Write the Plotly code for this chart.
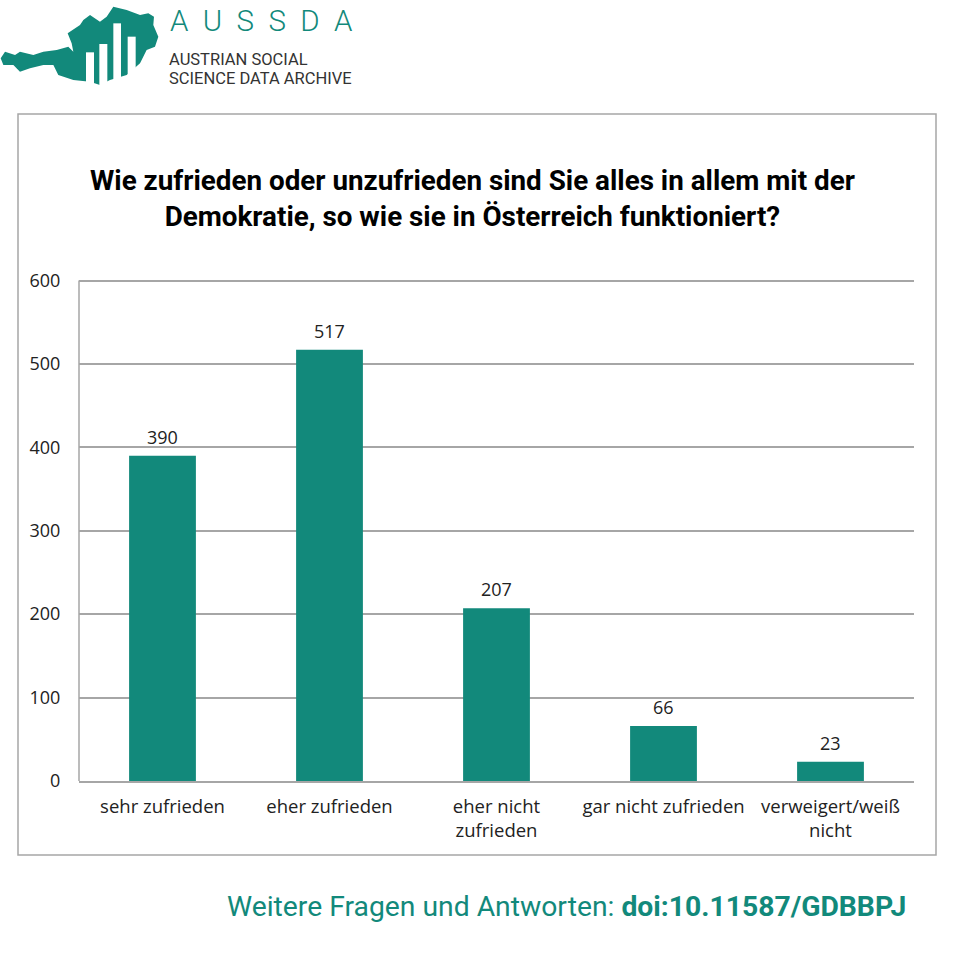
import plotly.graph_objects as go

categories = ['sehr zufrieden', 'eher zufrieden', 'eher nicht<br>zufrieden', 'gar nicht zufrieden', 'verweigert/weiß<br>nicht']
values = [390, 517, 207, 66, 23]
tick_vals = [0, 100, 200, 300, 400, 500, 600]

GREEN = '#12897b'
GREY = '#a6a6a6'
W, H = 956, 957
# 3 extra pixels on top (range goes to 603) or plotly drops the gridline at 600
LEFT, RIGHT, TOP, BOTTOM = 79, 914, 278, 781


# page pixels -> paper coordinates, everything around the plot is placed by hand
def px_x(x):
    return (x - LEFT) / (RIGHT - LEFT)


def px_y(y):
    return (BOTTOM - y) / (BOTTOM - TOP)


# logo outline, read from the 3x zoom
austria = [(2, 175), (15, 155), (45, 165), (60, 155), (100, 165), (130, 155), (170, 150), (205, 140), (220, 155),
           (215, 130), (203, 100), (240, 75), (250, 60), (270, 45), (300, 65), (320, 50), (340, 20), (380, 30),
           (420, 45), (445, 40), (462, 50), (460, 75), (475, 110), (465, 140), (440, 150), (430, 170), (420, 190),
           (380, 225), (330, 240), (300, 255), (270, 245), (220, 240), (175, 225), (160, 195), (130, 195),
           (90, 205), (60, 215), (40, 195), (10, 195)]
logo_bars = [(258, 282, 157, 255), (298, 322, 132, 255), (340, 363, 70, 245), (383, 407, 110, 225)]

logo_path = 'M ' + ' L '.join(f'{px_x(x / 3):.4f},{px_y(y / 3):.4f}' for x, y in austria) + ' Z'

shapes = [
    dict(type='rect', xref='paper', yref='paper', x0=px_x(18), x1=px_x(936), y0=px_y(855), y1=px_y(114),
         line=dict(color=GREY, width=1.5), layer='below'),
    # y axis line, stops at the 600 gridline instead of the range end
    dict(type='line', xref='paper', yref='y', x0=0, x1=0, y0=tick_vals[0], y1=tick_vals[-1],
         line=dict(color=GREY, width=1.5)),
    dict(type='path', xref='paper', yref='paper', path=logo_path, fillcolor=GREEN, line=dict(width=0)),
]
for x0, x1, y0, y1 in logo_bars:
    shapes.append(dict(type='rect', xref='paper', yref='paper', x0=px_x(x0 / 3), x1=px_x(x1 / 3),
                       y0=px_y(y1 / 3), y1=px_y(y0 / 3), fillcolor='white', line=dict(width=0)))

fig = go.Figure(go.Bar(x=categories, y=values, cliponaxis=False, width=0.4,
                       marker=dict(color=GREEN, line=dict(width=0))))

fig.update_layout(
    width=W, height=H,
    autosize=False,
    margin=dict(l=LEFT, r=W - RIGHT, t=TOP, b=H - BOTTOM),
    paper_bgcolor='white',
    plot_bgcolor='white',
    font=dict(family='Open Sans, sans-serif', size=18, color='#222222'),
    showlegend=False,
    xaxis=dict(showgrid=False, showline=True, linecolor=GREY, linewidth=1.5, ticks='outside', ticklen=8,
               tickcolor='rgba(0,0,0,0)', automargin=False, tickfont=dict(size=18.5)),
    yaxis=dict(range=[0, 603], tickvals=tick_vals, showgrid=True, gridcolor=GREY, gridwidth=1.5,
               showline=False, ticks='outside', ticklen=14, tickcolor='rgba(0,0,0,0)',
               zeroline=False, automargin=False),
    shapes=shapes,
)


def add_text(text, x, y, size, color, xanchor='center', align='center', family='Roboto, sans-serif', weight=None):
    fig.add_annotation(text=text, xref='paper', yref='paper', x=px_x(x), y=px_y(y), xanchor=xanchor,
                       yanchor='middle', align=align, showarrow=False,
                       font=dict(family=family, size=size, color=color, weight=weight))


add_text('<b>Wie zufrieden oder unzufrieden sind Sie alles in allem mit der<br>'
         'Demokratie, so wie sie in Österreich funktioniert?</b>', 472, 198, 27.8, 'black')
add_text('A\u00a0\u00a0U\u00a0\u00a0S\u00a0\u00a0S\u00a0\u00a0D\u00a0\u00a0A', 168, 21, 29.5, GREEN,
         xanchor='left', weight=300)
add_text('AUSTRIAN SOCIAL', 167, 59.5, 16.5, '#333333', xanchor='left')
add_text('SCIENCE DATA ARCHIVE', 167, 79, 16.5, '#333333', xanchor='left')
add_text('Weitere Fragen und Antworten: <b>doi:10.11587/GDBBPJ</b>', 908, 906, 28.3, GREEN, xanchor='right')

# value labels sit further above the bars than textposition='outside' allows
for cat, val in zip(categories, values):
    fig.add_annotation(x=cat, y=val, text=str(val), showarrow=False, yanchor='middle', yshift=19,
                       font=dict(size=18, color='#222222'))

# drop the default page margin so the figure starts at the window corner
fig.write_html("out.html", config=dict(displayModeBar=False), post_script="document.body.style.margin='0';")
